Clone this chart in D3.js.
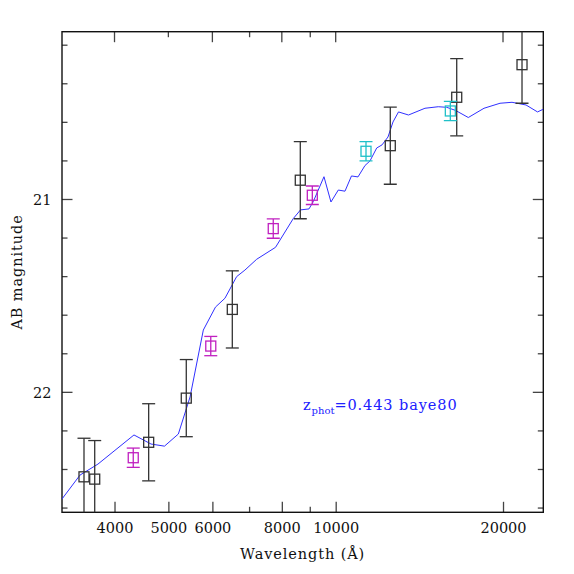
<!DOCTYPE html>
<html lang="en">
	<head>
		<meta charset="utf-8">
		<title>SED fit</title>
		<script src="https://cdnjs.cloudflare.com/ajax/libs/d3/7.8.5/d3.min.js"></script>
		<style type="text/css">
			html, body {
				margin: 0;
				padding: 0;
				background: white;
			}
			#sed-view {
				position: absolute;
				left: 0px;
				top: 0px;
			}
			.label {
				font-family: "DejaVu Serif", serif;
				font-size: 14.5px;
				fill: #111;
			}
		</style>
	</head>
	<body>

		<svg id="sed-view" width="574" height="574"></svg>

		<script type="text/javascript">

			var width  = 574;
			var height = 574;

			//---------------------------------------------
			// data
			//---------------------------------------------

			// broad band photometry (black)
			var bbWave = [3525, 3685, 4608, 5385, 6516, 8636, 12538, 16510, 21638];
			var bbMag  = [22.438, 22.450, 22.259, 22.030, 21.570, 20.900, 20.721, 20.470, 20.301];
			var bbErr  = [0.2, 0.2, 0.2, 0.2, 0.2, 0.2, 0.2, 0.2, 0.2];

			// medium bands (magenta)
			var mbWave = [4323, 5960, 7721, 9077];
			var mbMag  = [22.339, 21.760, 21.151, 20.978];
			var mbErr  = [0.05, 0.05, 0.05, 0.048];

			// near-IR bands (cyan)
			var irWave = [11338, 16079];
			var irMag  = [20.750, 20.541];
			var irErr  = [0.05, 0.05];

			// best fit template
			var modelWave = [3218, 3467, 3735, 4336, 4653, 4920, 5211, 5470, 5779, 6077,
				6321, 6634, 6866, 7208, 7794, 8388, 8644, 8953, 9114, 9526,
				9806, 10108, 10392, 10676, 10968, 11290, 11527, 11852, 12114, 12419,
				12679, 12972, 13521, 14475, 15296, 15838, 16425, 17322, 18486, 19753,
				20759, 22000, 23073, 23633];
			var modelMag = [22.553, 22.429, 22.372, 22.221, 22.268, 22.279, 22.216, 22.024, 21.677, 21.558,
				21.512, 21.400, 21.366, 21.310, 21.248, 21.099, 21.054, 21.049, 21.011, 20.882,
				21.013, 20.951, 20.957, 20.878, 20.883, 20.824, 20.800, 20.733, 20.717, 20.676,
				20.598, 20.546, 20.562, 20.527, 20.519, 20.522, 20.538, 20.575, 20.527, 20.501,
				20.496, 20.510, 20.546, 20.532];

			// axis ticks
			var xLabelTicks    = [4000, 5000, 6000, 8000, 10000, 20000];
			var xTopMajorTicks = [4000, 6000, 8000, 10000, 20000];
			var xTopMinorTicks = [5000, 7000, 9000];
			var xBotMinorTicks = [7000, 9000];
			var yMajorTicks = [21, 22];
			var yMinorTicks = [20.2, 20.4, 20.6, 20.8, 21.2, 21.4, 21.6, 21.8, 22.2, 22.4, 22.6];

			var zphot = "0.443";
			var template = "baye80";

			//---------------------------------------------
			// frame & scales
			//---------------------------------------------
			var fLeft = 62, fRight = 543.3, fTop = 31.7, fBottom = 512.3;

			var x = d3.scaleLog()
				.domain([3218, 23633])
				.range([fLeft, fRight]);

			var y = d3.scaleLinear()
				.domain([20.130, 22.622])
				.range([fTop, fBottom]);

			var svg = d3.select("#sed-view");

			svg.append("defs").append("clipPath")
				.attr("id", "frame-clip")
				.append("rect")
				.attr("x", fLeft).attr("y", fTop)
				.attr("width", fRight - fLeft).attr("height", fBottom - fTop);

			var majorLen = 10.5, minorLen = 5.5;
			var tickColor = "#444";

			// bottom axis
			var bottomAxis = d3.axisBottom(x)
				.tickValues(xLabelTicks)
				.tickFormat(d3.format("d"))
				.tickSizeInner(-majorLen)
				.tickSizeOuter(0)
				.tickPadding(10.5);

			var gb = svg.append("g")
				.attr("transform", "translate(0," + fBottom + ")")
				.call(bottomAxis);

			gb.select(".domain").remove();
			gb.selectAll("line").style("stroke", tickColor).style("stroke-width", 1.3);
			gb.selectAll("text")
				.attr("class", "label")
				.attr("font-family", null)
				.attr("font-size", null)
				.attr("dy", "0.71em");

			function drawTicks(values, len, horizontal, pos, dir) {
				svg.append("g").selectAll("line")
					.data(values)
					.enter().append("line")
					.attr("x1", function (d) { return horizontal ? x(d) : pos; })
					.attr("x2", function (d) { return horizontal ? x(d) : pos + dir * len; })
					.attr("y1", function (d) { return horizontal ? pos : y(d); })
					.attr("y2", function (d) { return horizontal ? pos + dir * len : y(d); })
					.style("stroke", tickColor)
					.style("stroke-width", 1.3);
			}

			drawTicks(xBotMinorTicks, minorLen, true, fBottom, -1);
			drawTicks(xTopMajorTicks, majorLen, true, fTop, 1);
			drawTicks(xTopMinorTicks, minorLen, true, fTop, 1);
			drawTicks(yMajorTicks, majorLen, false, fLeft, 1);
			drawTicks(yMinorTicks, minorLen, false, fLeft, 1);
			drawTicks(yMajorTicks, majorLen, false, fRight, -1);
			drawTicks(yMinorTicks, minorLen, false, fRight, -1);

			// left labels
			var leftAxis = d3.axisLeft(y)
				.tickValues(yMajorTicks)
				.tickFormat(d3.format("d"))
				.tickSize(0)
				.tickPadding(10.5);

			var gl = svg.append("g")
				.attr("transform", "translate(" + fLeft + ",0)")
				.call(leftAxis);
			gl.select(".domain").remove();
			gl.selectAll("text")
				.attr("class", "label")
				.attr("font-family", null)
				.attr("font-size", null)
				.attr("dy", "0.36em");

			// frame
			svg.append("rect")
				.attr("x", fLeft).attr("y", fTop)
				.attr("width", fRight - fLeft).attr("height", fBottom - fTop)
				.style("fill", "none")
				.style("stroke", "#111")
				.style("stroke-width", 1.4);

			// axis titles
			svg.append("text")
				.attr("class", "label")
				.attr("x", (fLeft + fRight) / 2)
				.attr("y", 559)
				.attr("text-anchor", "middle")
				.style("letter-spacing", "0.9px")
				.text("Wavelength (Å)");

			svg.append("text")
				.attr("class", "label")
				.attr("transform", "translate(22," + ((fTop + fBottom) / 2) + ") rotate(-90)")
				.attr("text-anchor", "middle")
				.style("letter-spacing", "0.9px")
				.text("AB magnitude");

			//---------------------------------------------
			// model & photometry
			//---------------------------------------------
			var plot = svg.append("g").attr("clip-path", "url(#frame-clip)");

			var modelLine = d3.line()
				.x(function (d) { return x(d[0]); })
				.y(function (d) { return y(d[1]); });

			plot.append("path")
				.datum(d3.zip(modelWave, modelMag))
				.attr("d", modelLine)
				.style("fill", "none")
				.style("stroke", "#3030ff")
				.style("stroke-width", 1);

			var boxSize = 10, capHalf = 6.5;

			function drawPoints(waves, mags, errs, colour) {
				var pts = d3.zip(waves, mags, errs);
				var g = plot.append("g")
					.style("stroke", colour)
					.style("stroke-width", 1.3)
					.style("fill", "none");

				g.selectAll(".bar").data(pts).enter().append("line")
					.attr("x1", function (d) { return x(d[0]); })
					.attr("x2", function (d) { return x(d[0]); })
					.attr("y1", function (d) { return y(d[1] - d[2]); })
					.attr("y2", function (d) { return y(d[1] + d[2]); });

				g.selectAll(".capt").data(pts).enter().append("line")
					.attr("x1", function (d) { return x(d[0]) - capHalf; })
					.attr("x2", function (d) { return x(d[0]) + capHalf; })
					.attr("y1", function (d) { return y(d[1] - d[2]); })
					.attr("y2", function (d) { return y(d[1] - d[2]); });

				g.selectAll(".capb").data(pts).enter().append("line")
					.attr("x1", function (d) { return x(d[0]) - capHalf; })
					.attr("x2", function (d) { return x(d[0]) + capHalf; })
					.attr("y1", function (d) { return y(d[1] + d[2]); })
					.attr("y2", function (d) { return y(d[1] + d[2]); });

				g.selectAll("rect").data(pts).enter().append("rect")
					.attr("x", function (d) { return x(d[0]) - boxSize / 2; })
					.attr("y", function (d) { return y(d[1]) - boxSize / 2; })
					.attr("width", boxSize)
					.attr("height", boxSize);
			}

			drawPoints(bbWave, bbMag, bbErr, "#333");
			drawPoints(mbWave, mbMag, mbErr, "#c020c0");
			drawPoints(irWave, irMag, irErr, "#20c0c8");

			// annotation
			var note = svg.append("text")
				.attr("x", 303)
				.attr("y", 410)
				.style("font-family", "DejaVu Serif, serif")
				.style("font-size", "14.5px")
				.style("fill", "#2020ff")
				.style("letter-spacing", "0.9px");
			note.append("tspan").text("z");
			note.append("tspan").attr("dy", 4).style("font-size", "10px").style("letter-spacing", "0px").text("phot");
			note.append("tspan").attr("dy", -4).text("=" + zphot + " " + template);

		</script>
	</body>
</html>
